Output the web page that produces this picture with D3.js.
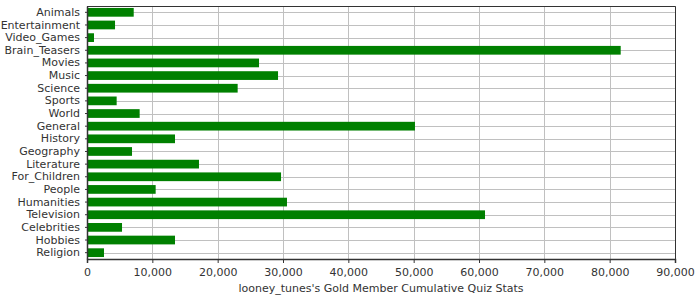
<!DOCTYPE html>
<html>
<head>
    <meta charset="utf-8">
    <style>
        body { margin: 0; background: #fff; }
        svg text { font-family: "DejaVu Sans", sans-serif; fill: #333; }
    </style>
</head>
<body>
    <script src="https://cdn.jsdelivr.net/npm/d3@7"></script>
    <script>
        var categories = ["Animals", "Entertainment", "Video_Games", "Brain_Teasers", "Movies", "Music",
            "Science", "Sports", "World", "General", "History", "Geography", "Literature", "For_Children",
            "People", "Humanities", "Television", "Celebrities", "Hobbies", "Religion"]
        var scores = [7150, 4290, 1070, 81690, 26330, 29240, 23060, 4540, 8060, 50200, 13470, 6890,
            17140, 29700, 10510, 30610, 60920, 5360, 13470, 2600]
        var xTicks = [0, 10000, 20000, 30000, 40000, 50000, 60000, 70000, 80000, 90000]
        var axisTitle = "looney_tunes's Gold Member Cumulative Quiz Stats"

        var width = 700, height = 300
        var plot = {left: 87, right: 675, top: 6, bottom: 259}

        var svg = d3.select("body").append("svg")
            .attr("width", width)
            .attr("height", height)

        var x = d3.scaleLinear()
            .domain([0, 90000])
            .range([plot.left, plot.right])

        var y = d3.scaleBand()
            .domain(categories)
            .range([plot.top, plot.bottom])
            .paddingInner(0.31)
            .paddingOuter(0.155)

        // grid lines
        svg.selectAll("line.vgrid")
            .data(xTicks.slice(1))
            .enter().append("line")
            .attr("class", "vgrid")
            .attr("x1", d => Math.round(x(d)) + 0.5)
            .attr("x2", d => Math.round(x(d)) + 0.5)
            .attr("y1", plot.top)
            .attr("y2", plot.bottom)
            .attr("stroke", "#c0c0c0")

        svg.selectAll("line.hgrid")
            .data(categories)
            .enter().append("line")
            .attr("class", "hgrid")
            .attr("x1", plot.left)
            .attr("x2", plot.right)
            .attr("y1", d => Math.round(y(d) + y.bandwidth() / 2) + 0.5)
            .attr("y2", d => Math.round(y(d) + y.bandwidth() / 2) + 0.5)
            .attr("stroke", "#c0c0c0")

        // bars
        svg.selectAll("rect.bar")
            .data(categories)
            .enter().append("rect")
            .attr("class", "bar")
            .attr("x", x(0))
            .attr("y", d => y(d))
            .attr("width", (d, i) => x(scores[i]) - x(0))
            .attr("height", y.bandwidth())
            .attr("fill", "#008000")

        // outline (top and right)
        svg.append("path")
            .attr("d", `M${plot.left},${plot.top + 0.5}H${plot.right + 0.5}V${plot.bottom}`)
            .attr("fill", "none")
            .attr("stroke", "#333")

        // x axis
        var xAxis = svg.append("g")
            .attr("transform", `translate(0,${plot.bottom})`)
            .call(d3.axisBottom(x).tickValues(xTicks).tickFormat(d3.format(",")).tickSizeOuter(0).tickSize(4))
        xAxis.select(".domain").attr("stroke", "#333").attr("stroke-width", 1.5)
        xAxis.selectAll(".tick line").attr("stroke", "#333")
        xAxis.selectAll(".tick text").attr("font-size", 11).attr("dy", "0.95em").attr("fill", "#333")
            .style("font-family", '"DejaVu Sans", sans-serif')

        // y axis
        var yAxis = svg.append("g")
            .attr("transform", `translate(${plot.left},0)`)
            .call(d3.axisLeft(y).tickSize(2).tickPadding(5).tickSizeOuter(0))
        yAxis.select(".domain").attr("stroke", "#333").attr("stroke-width", 1.5)
        yAxis.selectAll(".tick line").attr("stroke", "#333")
        yAxis.selectAll(".tick text").attr("font-size", 11).attr("fill", "#333")
            .style("font-family", '"DejaVu Sans", sans-serif')

        svg.append("text")
            .attr("x", (plot.left + plot.right) / 2)
            .attr("y", 292)
            .attr("text-anchor", "middle")
            .attr("font-size", 11)
            .text(axisTitle)
    </script>
</body>
</html>
